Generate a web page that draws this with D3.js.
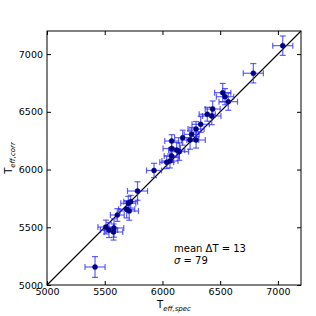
<!DOCTYPE html>
<html><head><meta charset="utf-8">
<script src="https://cdn.jsdelivr.net/npm/d3@7"></script>
<style>body{margin:0;background:#fff}svg{display:block}</style>
</head><body>
<script>
const tSpec = [5416,5511,5537,5576,5580,5609,5690,5712,5704,5725,5784,5927,6037,6065,6080,6080,6123,6146,6080,6175,6239,6291,6253,6291,6331,6388,6427,6435,6522,6542,6570,6787,7042];
const tCorr = [5156,5502,5476,5459,5494,5606,5656,5641,5708,5722,5814,5992,6063,6074,6117,6182,6169,6155,6247,6276,6256,6256,6305,6351,6392,6479,6464,6524,6666,6631,6588,6834,7073];
const errSpec = [87,70,75,80,85,60,70,80,65,60,87,65,60,70,65,75,70,80,60,70,75,80,65,70,75,70,80,65,70,75,80,87,87];
const errCorr = [90,60,65,70,80,55,75,80,60,55,80,62,55,60,55,70,65,75,55,65,80,70,60,65,70,60,75,70,80,70,75,84,84];
const ticks = [5000,5500,6000,6500,7000];
const stats = {mean:13, sigma:79};

const W=316,H=316, L=47,R=301,T=31,B=285;
const svg=d3.select("body").append("svg").attr("width",W).attr("height",H);
const x=d3.scaleLinear().domain([5000,7200]).range([L,R]);
const y=d3.scaleLinear().domain([5000,7200]).range([B,T]);
const font="DejaVu Sans";

// diagonal
svg.append("line").attr("x1",x(5000)).attr("y1",y(5000)).attr("x2",x(7200)).attr("y2",y(7200))
  .attr("stroke","#000").attr("stroke-width",1.1);

// error bars
const eb=svg.append("g").attr("stroke","#2a2aff").attr("stroke-opacity",0.75).attr("stroke-width",1.2);
const cap=3;
tSpec.forEach((v,i)=>{
  const cx=x(v), cy=y(tCorr[i]);
  const x0=x(v-errSpec[i]), x1=x(v+errSpec[i]);
  const y0=y(tCorr[i]-errCorr[i]), y1=y(tCorr[i]+errCorr[i]);
  eb.append("line").attr("x1",x0).attr("x2",x1).attr("y1",cy).attr("y2",cy);
  eb.append("line").attr("x1",cx).attr("x2",cx).attr("y1",y0).attr("y2",y1);
  eb.append("line").attr("x1",x0).attr("x2",x0).attr("y1",cy-cap).attr("y2",cy+cap);
  eb.append("line").attr("x1",x1).attr("x2",x1).attr("y1",cy-cap).attr("y2",cy+cap);
  eb.append("line").attr("x1",cx-cap).attr("x2",cx+cap).attr("y1",y0).attr("y2",y0);
  eb.append("line").attr("x1",cx-cap).attr("x2",cx+cap).attr("y1",y1).attr("y2",y1);
});
svg.append("g").selectAll("circle").data(tSpec).join("circle")
  .attr("cx",d=>x(d)).attr("cy",(d,i)=>y(tCorr[i])).attr("r",2.5)
  .attr("fill","#00008a").attr("stroke","#000060").attr("stroke-width",0.5);

// axes with inward ticks
const tl=4;
const axB=d3.axisBottom(x).tickValues(ticks).tickSize(-tl).tickPadding(3).tickFormat(d3.format("d"));
const axL=d3.axisLeft(y).tickValues(ticks).tickSize(-tl).tickPadding(4).tickFormat(d3.format("d"));
const axT=d3.axisTop(x).tickValues(ticks).tickSize(-tl).tickFormat("");
const axR=d3.axisRight(y).tickValues(ticks).tickSize(-tl).tickFormat("");
function style(g){g.select(".domain").remove();g.selectAll("line").attr("stroke","#000");
  g.selectAll("text").attr("font-family",font).attr("font-size",9.5).attr("fill","#000");}
svg.append("g").attr("transform",`translate(0,${B})`).call(axB).call(style);
svg.append("g").attr("transform",`translate(${L},0)`).call(axL).call(style);
svg.append("g").attr("transform",`translate(0,${T})`).call(axT).call(style);
svg.append("g").attr("transform",`translate(${R},0)`).call(axR).call(style);
svg.append("rect").attr("x",L).attr("y",T).attr("width",R-L).attr("height",B-T)
  .attr("fill","none").attr("stroke","#000").attr("stroke-width",1);

// annotation
const ann=svg.append("g").attr("font-family",font).attr("font-size",10).attr("fill","#000");
ann.append("text").attr("x",174).attr("y",252).text(`mean \u0394T = ${stats.mean}`);
const s2=ann.append("text").attr("x",174).attr("y",264);
s2.append("tspan").attr("font-style","italic").text("\u03c3");
s2.append("tspan").text(` = ${stats.sigma}`);

// axis labels
const xl=svg.append("text").attr("x",(L+R)/2).attr("y",308).attr("text-anchor","middle")
  .attr("font-family",font).attr("font-size",10);
xl.append("tspan").text("T");
xl.append("tspan").attr("font-size",7).attr("font-style","italic").attr("dy",3).text("eff,spec");
const yl=svg.append("text").attr("transform",`translate(12,${(T+B)/2}) rotate(-90)`).attr("text-anchor","middle")
  .attr("font-family",font).attr("font-size",10);
yl.append("tspan").text("T");
yl.append("tspan").attr("font-size",7).attr("font-style","italic").attr("dy",3).text("eff,corr");
</script>
</body></html>
